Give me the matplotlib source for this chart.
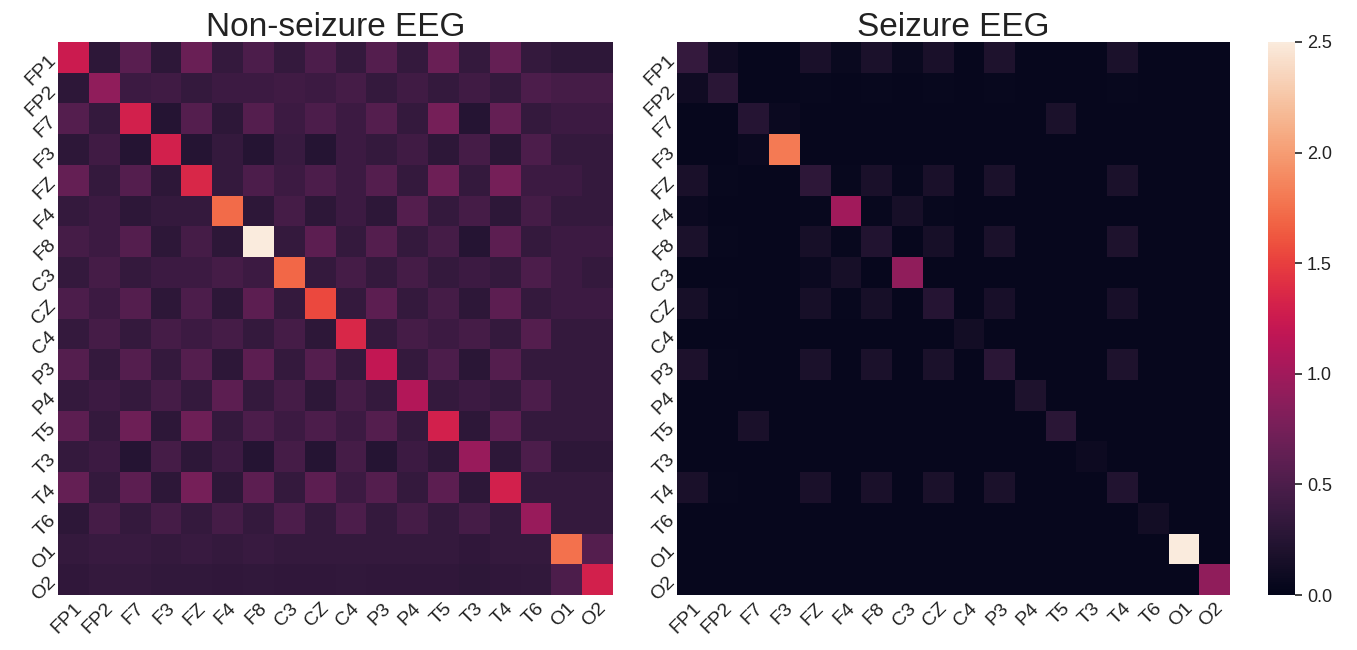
import numpy as np
import matplotlib
matplotlib.use("Agg")
import matplotlib.pyplot as plt
import seaborn as sns

channels = ["FP1", "FP2", "F7", "F3", "FZ", "F4", "F8", "C3", "CZ", "C4",
            "P3", "P4", "T5", "T3", "T4", "T6", "O1", "O2"]

non_seizure = [
    [1.25, 0.30, 0.58, 0.30, 0.68, 0.35, 0.50, 0.35, 0.50, 0.35, 0.55, 0.35, 0.68, 0.35, 0.65, 0.35, 0.30, 0.30],
    [0.30, 0.90, 0.40, 0.42, 0.35, 0.40, 0.40, 0.42, 0.40, 0.45, 0.35, 0.42, 0.35, 0.42, 0.35, 0.50, 0.45, 0.45],
    [0.55, 0.35, 1.30, 0.25, 0.55, 0.30, 0.55, 0.40, 0.50, 0.40, 0.55, 0.35, 0.75, 0.25, 0.65, 0.35, 0.40, 0.40],
    [0.30, 0.42, 0.25, 1.30, 0.25, 0.35, 0.25, 0.38, 0.25, 0.40, 0.35, 0.42, 0.30, 0.45, 0.28, 0.50, 0.35, 0.35],
    [0.65, 0.35, 0.55, 0.30, 1.35, 0.35, 0.50, 0.40, 0.50, 0.40, 0.55, 0.35, 0.70, 0.35, 0.75, 0.40, 0.40, 0.35],
    [0.35, 0.40, 0.30, 0.35, 0.35, 1.72, 0.30, 0.45, 0.30, 0.40, 0.30, 0.55, 0.35, 0.45, 0.30, 0.45, 0.35, 0.35],
    [0.45, 0.40, 0.55, 0.30, 0.45, 0.30, 2.50, 0.35, 0.60, 0.35, 0.55, 0.35, 0.45, 0.25, 0.60, 0.35, 0.40, 0.40],
    [0.35, 0.45, 0.35, 0.40, 0.40, 0.45, 0.40, 1.70, 0.35, 0.45, 0.35, 0.45, 0.35, 0.40, 0.35, 0.50, 0.40, 0.35],
    [0.50, 0.40, 0.55, 0.30, 0.50, 0.30, 0.60, 0.35, 1.55, 0.35, 0.60, 0.35, 0.45, 0.30, 0.60, 0.35, 0.40, 0.40],
    [0.35, 0.45, 0.35, 0.45, 0.40, 0.45, 0.35, 0.45, 0.30, 1.35, 0.35, 0.45, 0.40, 0.45, 0.35, 0.55, 0.35, 0.35],
    [0.55, 0.35, 0.55, 0.35, 0.55, 0.30, 0.60, 0.35, 0.55, 0.35, 1.20, 0.35, 0.50, 0.28, 0.55, 0.35, 0.35, 0.35],
    [0.35, 0.40, 0.35, 0.45, 0.35, 0.60, 0.35, 0.45, 0.30, 0.45, 0.35, 1.10, 0.35, 0.40, 0.35, 0.50, 0.35, 0.35],
    [0.60, 0.35, 0.70, 0.30, 0.70, 0.35, 0.50, 0.40, 0.50, 0.40, 0.55, 0.35, 1.30, 0.30, 0.60, 0.35, 0.35, 0.35],
    [0.35, 0.40, 0.25, 0.45, 0.30, 0.40, 0.25, 0.45, 0.25, 0.45, 0.25, 0.40, 0.30, 0.95, 0.30, 0.50, 0.30, 0.30],
    [0.65, 0.35, 0.60, 0.30, 0.75, 0.30, 0.60, 0.35, 0.60, 0.40, 0.55, 0.35, 0.60, 0.30, 1.30, 0.35, 0.35, 0.35],
    [0.30, 0.45, 0.35, 0.45, 0.35, 0.45, 0.35, 0.50, 0.35, 0.50, 0.35, 0.45, 0.35, 0.45, 0.35, 0.95, 0.35, 0.35],
    [0.35, 0.38, 0.38, 0.35, 0.38, 0.35, 0.38, 0.35, 0.35, 0.35, 0.35, 0.35, 0.35, 0.32, 0.35, 0.35, 1.75, 0.55],
    [0.32, 0.35, 0.35, 0.33, 0.33, 0.32, 0.33, 0.32, 0.32, 0.33, 0.32, 0.32, 0.32, 0.30, 0.32, 0.33, 0.50, 1.30],
]

seizure = [
    [0.35, 0.10, 0.04, 0.04, 0.17, 0.06, 0.18, 0.06, 0.17, 0.04, 0.20, 0.04, 0.04, 0.04, 0.18, 0.04, 0.04, 0.04],
    [0.10, 0.28, 0.04, 0.04, 0.05, 0.04, 0.05, 0.04, 0.05, 0.04, 0.05, 0.04, 0.04, 0.04, 0.05, 0.04, 0.04, 0.04],
    [0.04, 0.04, 0.25, 0.07, 0.04, 0.04, 0.04, 0.04, 0.04, 0.04, 0.04, 0.04, 0.18, 0.04, 0.04, 0.04, 0.04, 0.04],
    [0.04, 0.04, 0.07, 1.80, 0.04, 0.04, 0.04, 0.04, 0.04, 0.04, 0.04, 0.04, 0.04, 0.04, 0.04, 0.04, 0.04, 0.04],
    [0.17, 0.05, 0.04, 0.04, 0.30, 0.05, 0.17, 0.05, 0.17, 0.04, 0.18, 0.04, 0.04, 0.04, 0.18, 0.04, 0.04, 0.04],
    [0.07, 0.04, 0.04, 0.04, 0.05, 1.00, 0.05, 0.15, 0.05, 0.04, 0.04, 0.04, 0.04, 0.04, 0.04, 0.04, 0.04, 0.04],
    [0.18, 0.05, 0.04, 0.04, 0.15, 0.05, 0.22, 0.04, 0.15, 0.04, 0.18, 0.04, 0.04, 0.04, 0.20, 0.04, 0.04, 0.04],
    [0.04, 0.04, 0.04, 0.04, 0.07, 0.15, 0.04, 0.90, 0.04, 0.04, 0.04, 0.04, 0.04, 0.04, 0.04, 0.04, 0.04, 0.04],
    [0.15, 0.05, 0.04, 0.04, 0.15, 0.05, 0.15, 0.04, 0.25, 0.04, 0.16, 0.04, 0.04, 0.04, 0.16, 0.04, 0.04, 0.04],
    [0.04, 0.04, 0.04, 0.04, 0.04, 0.04, 0.04, 0.04, 0.04, 0.12, 0.04, 0.04, 0.04, 0.04, 0.04, 0.04, 0.04, 0.04],
    [0.19, 0.05, 0.04, 0.04, 0.18, 0.04, 0.18, 0.04, 0.18, 0.04, 0.28, 0.04, 0.04, 0.04, 0.20, 0.04, 0.04, 0.04],
    [0.04, 0.04, 0.04, 0.04, 0.04, 0.04, 0.04, 0.04, 0.04, 0.04, 0.04, 0.20, 0.04, 0.04, 0.04, 0.04, 0.04, 0.04],
    [0.04, 0.04, 0.17, 0.04, 0.04, 0.04, 0.04, 0.04, 0.04, 0.04, 0.04, 0.04, 0.28, 0.04, 0.04, 0.04, 0.04, 0.04],
    [0.04, 0.04, 0.04, 0.04, 0.04, 0.04, 0.04, 0.04, 0.04, 0.04, 0.04, 0.04, 0.04, 0.08, 0.04, 0.04, 0.04, 0.04],
    [0.17, 0.05, 0.04, 0.04, 0.17, 0.04, 0.17, 0.04, 0.18, 0.04, 0.18, 0.04, 0.04, 0.04, 0.22, 0.04, 0.04, 0.04],
    [0.04, 0.04, 0.04, 0.04, 0.04, 0.04, 0.04, 0.04, 0.04, 0.04, 0.04, 0.04, 0.04, 0.04, 0.04, 0.12, 0.04, 0.04],
    [0.04, 0.04, 0.04, 0.04, 0.04, 0.04, 0.04, 0.04, 0.04, 0.04, 0.04, 0.04, 0.04, 0.04, 0.04, 0.04, 2.50, 0.04],
    [0.04, 0.04, 0.04, 0.04, 0.04, 0.04, 0.04, 0.04, 0.04, 0.04, 0.04, 0.04, 0.04, 0.04, 0.04, 0.04, 0.04, 0.90],
]

titles = ["Non-seizure EEG", "Seizure EEG"]
cbar_ticks = [0.0, 0.5, 1.0, 1.5, 2.0, 2.5]

sns.set_theme(style="white")
plt.rcParams["font.family"] = ["Liberation Sans", "DejaVu Sans"]

fig = plt.figure(figsize=(13.57, 6.5), dpi=100)
W, H = 1357, 650
bottom = 1 - 595 / H
height = (595 - 42) / H
ax1 = fig.add_axes([58 / W, bottom, (613 - 58) / W, height])
ax2 = fig.add_axes([677 / W, bottom, (1230 - 677) / W, height])
cax = fig.add_axes([1268 / W, bottom, (1295 - 1268) / W, height])

for ax, data, title, use_cbar in [(ax1, non_seizure, titles[0], False),
                                  (ax2, seizure, titles[1], True)]:
    sns.heatmap(np.array(data), ax=ax, cmap="rocket", vmin=0, vmax=2.5,
                xticklabels=channels, yticklabels=channels,
                cbar=use_cbar, cbar_ax=cax if use_cbar else None)
    ax.set_title(title, fontsize=24, pad=4, color="#222222")
    ax.tick_params(axis="both", length=0, labelsize=14, colors="#222222")
    plt.setp(ax.get_xticklabels(), rotation=45, ha="right",
             rotation_mode="anchor")
    plt.setp(ax.get_yticklabels(), rotation=45, ha="right", va="center",
             rotation_mode="anchor")

cax.set_yticks(cbar_ticks)
cax.set_yticklabels([f"{t:.1f}" for t in cbar_ticks])
cax.tick_params(axis="y", right=True, length=5, width=1.2, labelsize=13,
                colors="#222222")
for s in cax.spines.values():
    s.set_visible(False)

fig.savefig("out.png", dpi=100)
